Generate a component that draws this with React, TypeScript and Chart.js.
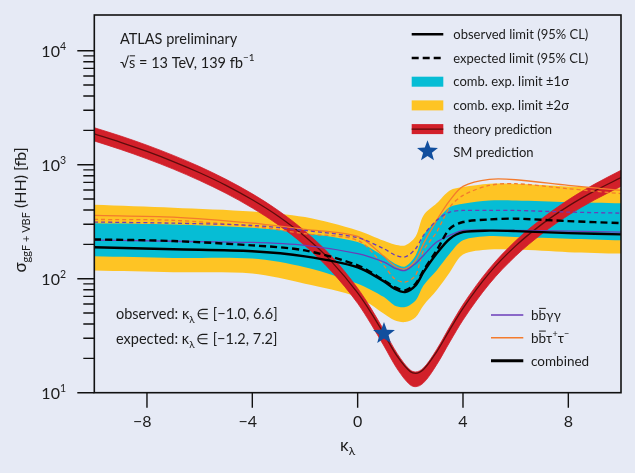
import { useEffect, useRef } from "react";
import { Chart, registerables } from "chart.js";

Chart.register(...registerables);

// ---------------- data ----------------
const kappaLimits = [-10, -7, -4, -2, 0, 1, 1.4, 1.8, 2.2, 2.5, 3, 3.5, 4, 5, 6, 8, 10];
const twoSigmaUp = [446, 420, 389, 347, 265, 215, 200, 196, 235, 359, 458, 595, 636, 681, 681, 645, 620];
const twoSigmaDown = [118, 114, 111, 90.4, 69.0, 49.3, 43.1, 41.6, 46.0, 58.3, 79.0, 114, 163, 180, 180, 171, 166];
const oneSigmaUp = [307, 299.5, 280, 251, 209.5, 157, 136, 128, 160, 240, 325, 425, 455, 486, 486, 470, 458];
const oneSigmaDown = [157, 152, 150, 126, 90.4, 69.0, 58.3, 56.4, 64.5, 87.3, 118, 166, 217, 236.5, 232, 224, 217];
const combExpected = [221, 214, 196, 177, 131, 96.6, 84.4, 79.0, 90.4, 118, 177, 275, 314, 331, 336, 320, 307];
const combObserved = [189, 181, 174, 157, 126, 94.7, 81.7, 76.3, 87.3, 114, 166, 224, 256, 264, 261.5, 251, 245];
const bbyyExpected = [314, 307, 293, 265, 229, 183, 162, 155, 183, 240, 325, 384, 397, 397, 397, 384, 376];
const bbyyObserved = [218, 213, 208, 196, 166, 140, 124, 118, 136, 160, 209.5, 240, 265, 265, 265, 261.5, 256];
const bbttObserved = [359, 347, 307, 271, 235, 157, 130, 122, 145, 203, 325, 486, 645, 743, 738, 658, 595];
const bbttExpected = [331, 325, 288, 248, 217, 130, 100, 93.4, 107, 177, 256, 425, 538, 658, 681, 616, 557];

const kappaTheory = [-10, -9, -8, -7, -6, -5, -4, -3, -2, -1, 0, 0.5, 1, 1.5, 2, 2.2, 2.5, 3, 3.5, 4, 5, 6, 7, 8, 9, 10];
const theoryCentral = [1863, 1573, 1307, 1066, 850, 659, 492, 351, 234, 142, 75, 50.7, 32.7, 20.9, 15.3, 14.8, 16.0, 22.8, 35.8, 55.0, 112, 194, 301, 433, 589, 770];
const theoryUpper = [2110, 1785, 1482, 1207, 962, 744, 555, 394, 261, 158, 82.5, 55.3, 35.2, 22.1, 15.8, 15.2, 16.5, 23.9, 38, 59.3, 122.5, 215, 337, 492, 676, 893];
const theoryLower = [1615, 1360, 1126, 915, 726, 561, 417, 295, 195, 116.5, 60.8, 40.3, 25.7, 16.2, 11.7, 11.3, 12.2, 17.6, 27.9, 43.4, 90, 158, 248, 360, 492, 645];

const smKappa = 1;
const smXsec = 33;

const xTicks = [-8, -4, 0, 4, 8];
const yDecadeExponents = [1, 2, 3, 4];
const yMinorMultipliers = [2, 3, 4, 5, 6, 7, 8, 9];

const legendMain = [
  "observed limit (95% CL)",
  "expected limit (95% CL)",
  "comb. exp. limit \u00b11\u03c3",
  "comb. exp. limit \u00b12\u03c3",
  "theory prediction",
  "SM prediction",
];

// ---------------- style ----------------
const FONT = 'Lato, "DejaVu Sans", sans-serif';
const BG = "#e6eaf5";
const TEXT = "#1c1c1c";
const YELLOW = "#fec424";
const CYAN = "#06bdd5";
const RED = "#d2202a";
const DARKRED = "#5e0c0c";
const PURPLE = "#6b3db8";
const ORANGE = "#f47b2c";
const STAR = "#124f9e";

type Run = { t: string; size: number; dy?: number; bar?: boolean };

function drawRuns(ctx: CanvasRenderingContext2D, x: number, y: number, runs: Run[], align: "left" | "center" | "right" = "left") {
  let total = 0;
  for (const r of runs) {
    ctx.font = `${r.size}px ${FONT}`;
    total += ctx.measureText(r.t).width;
  }
  let cx = align === "center" ? x - total / 2 : align === "right" ? x - total : x;
  ctx.textAlign = "left";
  ctx.textBaseline = "alphabetic";
  for (const r of runs) {
    ctx.font = `${r.size}px ${FONT}`;
    const w = ctx.measureText(r.t).width;
    ctx.fillText(r.t, cx, y + (r.dy || 0));
    if (r.bar) {
      ctx.save();
      ctx.lineWidth = 1;
      ctx.strokeStyle = ctx.fillStyle as string;
      ctx.beginPath();
      const by = y + (r.dy || 0) - r.size * 0.86;
      ctx.moveTo(cx + 0.5, by);
      ctx.lineTo(cx + w - 0.3, by);
      ctx.stroke();
      ctx.restore();
    }
    cx += w;
  }
  return total;
}

function drawStar(ctx: CanvasRenderingContext2D, cx: number, cy: number, R: number) {
  const r = R * 0.42;
  ctx.beginPath();
  for (let i = 0; i < 10; i++) {
    const a = -Math.PI / 2 + (i * Math.PI) / 5;
    const rad = i % 2 === 0 ? R : r;
    const px = cx + rad * Math.cos(a);
    const py = cy + rad * Math.sin(a);
    if (i === 0) ctx.moveTo(px, py);
    else ctx.lineTo(px, py);
  }
  ctx.closePath();
  ctx.fillStyle = STAR;
  ctx.fill();
}

const decorPlugin = {
  id: "decor",
  beforeDraw(chart: any) {
    const ctx = chart.ctx as CanvasRenderingContext2D;
    ctx.save();
    ctx.fillStyle = BG;
    ctx.fillRect(0, 0, chart.width, chart.height);
    ctx.restore();
  },
  afterDatasetsDraw(chart: any) {
    const ctx = chart.ctx as CanvasRenderingContext2D;
    const xs = chart.scales.x;
    const ys = chart.scales.y;
    const { left, right, top, bottom } = chart.chartArea;
    ctx.save();

    // SM star
    drawStar(ctx, xs.getPixelForValue(smKappa), ys.getPixelForValue(smXsec), 11.5);

    // frame
    ctx.strokeStyle = "#111";
    ctx.lineWidth = 1.6;
    ctx.strokeRect(left, top, right - left, bottom - top);

    // y ticks
    ctx.lineWidth = 1.4;
    ctx.beginPath();
    for (const e of yDecadeExponents) {
      const base = Math.pow(10, e);
      const py = ys.getPixelForValue(base);
      ctx.moveTo(left - 17, py);
      ctx.lineTo(left, py);
      if (e < 4) {
        for (const m of yMinorMultipliers) {
          const pm = ys.getPixelForValue(base * m);
          ctx.moveTo(left - 11, pm);
          ctx.lineTo(left, pm);
        }
      }
    }
    // x ticks
    for (const t of xTicks) {
      const px = xs.getPixelForValue(t);
      ctx.moveTo(px, bottom);
      ctx.lineTo(px, bottom + 15);
    }
    ctx.stroke();

    ctx.fillStyle = TEXT;
    // y tick labels
    for (const e of yDecadeExponents) {
      const py = ys.getPixelForValue(Math.pow(10, e));
      drawRuns(ctx, 66, py + 6.6, [
        { t: "10", size: 16 },
        { t: String(e), size: 10.5, dy: -7.5 },
      ], "right");
    }
    // x tick labels
    ctx.font = `16px ${FONT}`;
    for (const t of xTicks) {
      const px = xs.getPixelForValue(t);
      const s = String(Math.abs(t));
      ctx.textAlign = "center";
      ctx.fillText(s, px, 427);
      if (t < 0) {
        const w = ctx.measureText(s).width;
        ctx.textAlign = "right";
        ctx.fillText("\u2212", px - w / 2, 427);
      }
    }

    // x title
    drawRuns(ctx, 340, 451, [
      { t: "\u03ba", size: 17 },
      { t: "\u03bb", size: 12, dy: 4 },
    ]);

    // y title
    ctx.save();
    ctx.translate(26, 210);
    ctx.rotate(-Math.PI / 2);
    drawRuns(ctx, 0, 0, [
      { t: "\u03c3", size: 17 },
      { t: "ggF + VBF", size: 11, dy: 4 },
      { t: " (HH) [fb]", size: 16 },
    ], "center");
    ctx.restore();

    // ATLAS label
    drawRuns(ctx, 120, 43.5, [{ t: "ATLAS preliminary", size: 14.5 }]);
    const wRoot = drawRuns(ctx, 120, 68.3, [{ t: "\u221a", size: 14.5 }]);
    drawRuns(ctx, 120 + wRoot, 68.3, [
      { t: "s", size: 14.5, bar: true },
      { t: " = 13 TeV, 139 fb", size: 14.5 },
      { t: "\u22121", size: 10, dy: -7 },
    ]);

    // interval texts
    drawRuns(ctx, 116, 318.5, [
      { t: "observed: \u03ba", size: 14.5 },
      { t: "\u03bb", size: 10, dy: 4 },
      { t: "\u2009\u2208 [\u22121.0, 6.6]", size: 14.5 },
    ]);
    drawRuns(ctx, 116, 344.3, [
      { t: "expected: \u03ba", size: 14.5 },
      { t: "\u03bb", size: 10, dy: 4 },
      { t: "\u2009\u2208 [\u22121.2, 7.2]", size: 14.5 },
    ]);

    // main legend
    const lx0 = 411.7, lx1 = 443.3, tx = 453.3;
    const rowY = [34.3, 58, 81.7, 105.4, 129.1, 152.8];
    ctx.strokeStyle = "#000";
    ctx.lineWidth = 2.5;
    ctx.setLineDash([]);
    ctx.beginPath();
    ctx.moveTo(lx0, rowY[0]);
    ctx.lineTo(lx1, rowY[0]);
    ctx.stroke();
    ctx.setLineDash([7, 4]);
    ctx.beginPath();
    ctx.moveTo(lx0, rowY[1]);
    ctx.lineTo(lx1, rowY[1]);
    ctx.stroke();
    ctx.setLineDash([]);
    ctx.fillStyle = CYAN;
    ctx.fillRect(lx0, rowY[2] - 5, lx1 - lx0, 10);
    ctx.fillStyle = YELLOW;
    ctx.fillRect(lx0, rowY[3] - 5, lx1 - lx0, 10);
    ctx.fillStyle = RED;
    ctx.fillRect(lx0, rowY[4] - 5, lx1 - lx0, 10);
    ctx.strokeStyle = DARKRED;
    ctx.lineWidth = 1.4;
    ctx.beginPath();
    ctx.moveTo(lx0, rowY[4]);
    ctx.lineTo(lx1, rowY[4]);
    ctx.stroke();
    drawStar(ctx, (lx0 + lx1) / 2, rowY[5] - 1.5, 11);
    ctx.fillStyle = TEXT;
    legendMain.forEach((s, i) => {
      drawRuns(ctx, tx, rowY[i] + 4.6, [{ t: s, size: 13 }]);
    });

    // channel legend
    const cx0 = 491, cx1 = 523.3, ctx0 = 531;
    const cRows = [315, 337.7, 360.7];
    ctx.lineWidth = 1.5;
    ctx.strokeStyle = PURPLE;
    ctx.beginPath();
    ctx.moveTo(cx0, cRows[0]);
    ctx.lineTo(cx1, cRows[0]);
    ctx.stroke();
    ctx.strokeStyle = ORANGE;
    ctx.beginPath();
    ctx.moveTo(cx0, cRows[1]);
    ctx.lineTo(cx1, cRows[1]);
    ctx.stroke();
    ctx.strokeStyle = "#000";
    ctx.lineWidth = 3;
    ctx.beginPath();
    ctx.moveTo(cx0, cRows[2]);
    ctx.lineTo(cx1, cRows[2]);
    ctx.stroke();
    ctx.fillStyle = TEXT;
    drawRuns(ctx, ctx0, cRows[0] + 5, [
      { t: "b", size: 13.5 },
      { t: "b", size: 13.5, bar: true },
      { t: "\u03b3\u03b3", size: 13.5 },
    ]);
    drawRuns(ctx, ctx0, cRows[1] + 5, [
      { t: "b", size: 13.5 },
      { t: "b", size: 13.5, bar: true },
      { t: "\u03c4", size: 13.5 },
      { t: "+", size: 9, dy: -6 },
      { t: "\u03c4", size: 13.5 },
      { t: "\u2212", size: 9, dy: -6 },
    ]);
    drawRuns(ctx, ctx0, cRows[2] + 5, [{ t: "combined", size: 13.5 }]);

    ctx.restore();
  },
};

function series(label: string, xs: number[], ys: number[], opts: any) {
  return {
    label,
    data: xs.map((x, i) => ({ x, y: ys[i] })),
    pointRadius: 0,
    pointHoverRadius: 0,
    borderWidth: 1,
    borderColor: "rgba(0,0,0,0)",
    cubicInterpolationMode: "default",
    tension: 0.3,
    fill: false,
    ...opts,
  };
}

export default function App() {
  const ref = useRef<HTMLCanvasElement | null>(null);
  useEffect(() => {
    document.body.style.margin = "0";
    document.body.style.background = BG;
    if (!ref.current) return;
    const theory = { cubicInterpolationMode: "monotone" };
    const chart = new Chart(ref.current, {
      type: "line",
      data: {
        datasets: [
          series("combined observed", kappaLimits, combObserved, { borderColor: "#000", borderWidth: 2.4, order: 1 }),
          series("combined expected", kappaLimits, combExpected, { borderColor: "#000", borderWidth: 2.4, borderDash: [7, 4], order: 2 }),
          series("bbyy observed", kappaLimits, bbyyObserved, { borderColor: PURPLE, borderWidth: 1.3, order: 3 }),
          series("bbyy expected", kappaLimits, bbyyExpected, { borderColor: PURPLE, borderWidth: 1.3, borderDash: [4, 3], order: 4 }),
          series("bbtautau observed", kappaLimits, bbttObserved, { borderColor: ORANGE, borderWidth: 1.3, order: 5 }),
          series("bbtautau expected", kappaLimits, bbttExpected, { borderColor: ORANGE, borderWidth: 1.3, borderDash: [4, 3], order: 6 }),
          series("theory central", kappaTheory, theoryCentral, { ...theory, borderColor: DARKRED, borderWidth: 1.3, order: 7 }),
          series("theory upper", kappaTheory, theoryUpper, { ...theory, borderColor: RED, borderWidth: 0.8, backgroundColor: RED, fill: "+1", order: 8 }),
          series("theory lower", kappaTheory, theoryLower, { ...theory, borderColor: RED, borderWidth: 0.8, order: 9 }),
          series("1 sigma up", kappaLimits, oneSigmaUp, { backgroundColor: CYAN, fill: "+1", order: 10 }),
          series("1 sigma down", kappaLimits, oneSigmaDown, { order: 11 }),
          series("2 sigma up", kappaLimits, twoSigmaUp, { backgroundColor: YELLOW, fill: "+1", order: 12 }),
          series("2 sigma down", kappaLimits, twoSigmaDown, { order: 13 }),
        ],
      },
      options: {
        responsive: false,
        animation: false,
        events: [],
        layout: { padding: { left: 94.3, right: 14, top: 15, bottom: 80.3 } },
        plugins: { legend: { display: false }, tooltip: { enabled: false } },
        scales: {
          x: { type: "linear", min: -10, max: 10, display: false },
          y: { type: "logarithmic", min: 10, max: 20560, display: false },
        },
      },
      plugins: [decorPlugin],
    });
    return () => chart.destroy();
  }, []);
  return (
    <div style={{ position: "fixed", left: 0, top: 0, width: 635, height: 473, background: BG }}>
      <canvas ref={ref} width={635} height={473} style={{ width: 635, height: 473, display: "block" }} />
    </div>
  );
}
